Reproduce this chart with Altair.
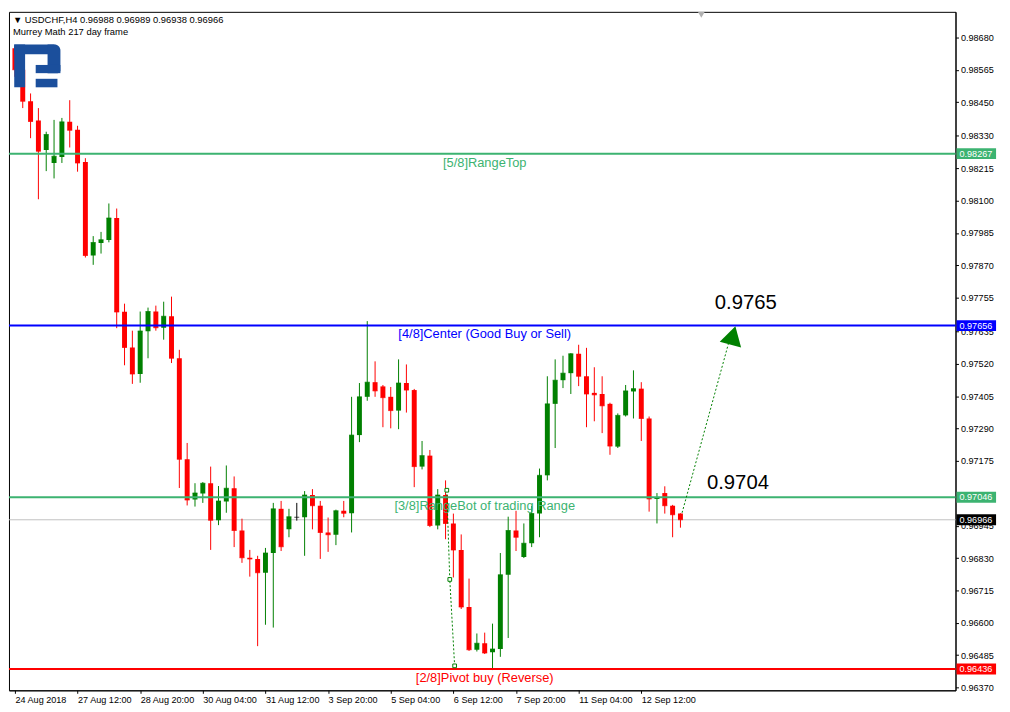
import json
import altair as alt
import pandas as pd

# ---------------- data ----------------
bar_open = [0.98642, 0.98565, 0.98453, 0.98385, 0.98280, 0.98234, 0.98255, 0.98380, 0.98352, 0.98237,
            0.97905, 0.97950, 0.97960, 0.98038, 0.97705, 0.97578, 0.97484, 0.97636, 0.97706, 0.97648,
            0.97689, 0.97540, 0.97181, 0.97038, 0.97059, 0.97096, 0.96964, 0.97031, 0.97078, 0.96928,
            0.96831, 0.96827, 0.96778, 0.96848, 0.97005, 0.96932, 0.96975, 0.96975, 0.97054, 0.97016,
            0.96921, 0.96913, 0.96998, 0.96989, 0.97267, 0.97403, 0.97455, 0.97440, 0.97403, 0.97354,
            0.97452, 0.97427, 0.97155, 0.97194, 0.96946, 0.97054, 0.96953, 0.96859, 0.96656, 0.96504,
            0.96527, 0.96495, 0.96507, 0.96771, 0.96928, 0.96834, 0.96883, 0.96988, 0.97124, 0.97378,
            0.97462, 0.97487, 0.97556, 0.97476, 0.97417, 0.97413, 0.97378, 0.97226, 0.97337, 0.97422,
            0.97432, 0.97326, 0.97040, 0.97061, 0.97016, 0.96988]
bar_high = [0.98649, 0.98572, 0.98481, 0.98429, 0.98345, 0.98387, 0.98394, 0.98457, 0.98366, 0.98251,
            0.97974, 0.97989, 0.98090, 0.98072, 0.97734, 0.97638, 0.97706, 0.97720, 0.97727, 0.97741,
            0.97759, 0.97570, 0.97239, 0.97096, 0.97100, 0.97155, 0.97086, 0.97159, 0.97120, 0.96970,
            0.96859, 0.96838, 0.96866, 0.97026, 0.97033, 0.97005, 0.97026, 0.97068, 0.97075, 0.97033,
            0.96974, 0.97002, 0.97033, 0.97403, 0.97452, 0.97672, 0.97529, 0.97445, 0.97438, 0.97536,
            0.97518, 0.97431, 0.97246, 0.97214, 0.97075, 0.97106, 0.96988, 0.96914, 0.96757, 0.96562,
            0.96565, 0.96597, 0.96848, 0.96977, 0.96998, 0.96953, 0.97016, 0.97148, 0.97476, 0.97536,
            0.97549, 0.97558, 0.97588, 0.97577, 0.97508, 0.97476, 0.97382, 0.97344, 0.97445, 0.97497,
            0.97455, 0.97333, 0.97061, 0.97085, 0.97019, 0.96989]
bar_low = [0.98540, 0.98429, 0.98322, 0.98105, 0.98205, 0.98179, 0.98234, 0.98289, 0.98203, 0.97898,
           0.97872, 0.97912, 0.97952, 0.97647, 0.97515, 0.97449, 0.97453, 0.97540, 0.97638, 0.97606,
           0.97523, 0.97079, 0.97017, 0.97013, 0.97026, 0.96859, 0.96947, 0.96991, 0.96869, 0.96813,
           0.96764, 0.96517, 0.96593, 0.96583, 0.96855, 0.96904, 0.96963, 0.96838, 0.96932, 0.96827,
           0.96852, 0.96876, 0.96975, 0.96921, 0.97242, 0.97389, 0.97403, 0.97295, 0.97291, 0.97288,
           0.97347, 0.97082, 0.97145, 0.96940, 0.96932, 0.96897, 0.96761, 0.96649, 0.96500, 0.96498,
           0.96489, 0.96432, 0.96479, 0.96546, 0.96855, 0.96830, 0.96869, 0.96904, 0.97106, 0.97221,
           0.97434, 0.97413, 0.97441, 0.97295, 0.97316, 0.97274, 0.97197, 0.97221, 0.97333, 0.97326,
           0.97246, 0.96995, 0.96953, 0.96988, 0.96904, 0.96938]
bar_close = [0.98565, 0.98453, 0.98381, 0.98276, 0.98335, 0.98258, 0.98380, 0.98350, 0.98234, 0.97905,
             0.97951, 0.97961, 0.98038, 0.97704, 0.97578, 0.97484, 0.97637, 0.97706, 0.97648, 0.97689,
             0.97540, 0.97181, 0.97036, 0.97061, 0.97096, 0.96964, 0.97033, 0.97078, 0.96928, 0.96831,
             0.96827, 0.96778, 0.96848, 0.97005, 0.96870, 0.96977, 0.96975, 0.97054, 0.97016, 0.96921,
             0.96913, 0.96998, 0.96989, 0.97267, 0.97403, 0.97455, 0.97424, 0.97400, 0.97354, 0.97452,
             0.97427, 0.97155, 0.97194, 0.96946, 0.97054, 0.96953, 0.96859, 0.96656, 0.96504, 0.96527,
             0.96493, 0.96507, 0.96771, 0.96928, 0.96904, 0.96883, 0.96988, 0.97124, 0.97378, 0.97462,
             0.97487, 0.97556, 0.97476, 0.97413, 0.97410, 0.97371, 0.97228, 0.97337, 0.97424, 0.97432,
             0.97326, 0.97040, 0.97044, 0.97016, 0.96984, 0.96966]

time_labels = ["24 Aug 2018", "27 Aug 12:00", "28 Aug 20:00", "30 Aug 04:00", "31 Aug 12:00",
               "3 Sep 20:00", "5 Sep 04:00", "6 Sep 12:00", "7 Sep 20:00", "11 Sep 04:00", "12 Sep 12:00"]
time_tick_bars = [0, 8, 16, 24, 32, 40, 48, 56, 64, 72, 80]

# the 0.97060 tick label is entirely hidden behind the 0.97046 level box in the reference
price_ticks = [0.98680, 0.98565, 0.98450, 0.98330, 0.98215, 0.98100, 0.97985, 0.97870, 0.97755,
               0.97635, 0.97520, 0.97405, 0.97290, 0.97175, 0.96945, 0.96830, 0.96715,
               0.96600, 0.96485, 0.96370]

level_price = [0.98267, 0.97656, 0.97046, 0.96436]
level_name = ["[5/8]RangeTop", "[4/8]Center (Good Buy or Sell)",
              "[3/8]RangeBot of trading Range", "[2/8]Pivot buy (Reverse)"]
last_price = 0.96966

target_text = ["0.9765", "0.9704"]
target_price = [0.9765, 0.9704]

forecast_bar = [85.21, 91.16]
forecast_price = [0.96991, 0.97595]
arrow_bar = [91.7]
arrow_price = [0.97621]

old_path_bar = [55.16, 55.54, 56.16]
old_path_price = [0.97071, 0.96754, 0.96447]

header_line1 = "\u25bc USDCHF,H4  0.96988 0.96989 0.96938 0.96966"
header_line2 = "Murrey Math 217 day frame"

# ---------------- styles ----------------
FONT = "Liberation Sans"
GREEN_LVL = "#3cb371"
level_color = [GREEN_LVL, "#0000ff", GREEN_LVL, "#ff0000"]
UP, DOWN, FLAT = "#008000", "#ff0000", "#000000"
LOGO = "#1b4f9c"

W, H = 957, 686

candles = pd.DataFrame({"idx": list(range(len(bar_open))), "open": bar_open, "high": bar_high,
                        "low": bar_low, "close": bar_close})
levels = pd.DataFrame({"price": level_price, "name": level_name})
boxes = pd.DataFrame({"price": level_price + [last_price],
                      "key": level_name + ["last"]})
box_scale = alt.Scale(domain=level_name + ["last"], range=level_color + ["#000000"])
lvl_scale = alt.Scale(domain=level_name, range=level_color)

x_scale = alt.Scale(domain=[-0.125, 119.5], nice=False, zero=False)
y_scale = alt.Scale(domain=[0.96360, 0.98771], nice=False, zero=False)

label_expr = json.dumps(time_labels) + "[round(datum.value / 8)]"

x_axis = alt.Axis(values=time_tick_bars, labelExpr=label_expr, orient="bottom", title=None,
                  grid=False, tickSize=3, tickColor="black", domainColor="black",
                  labelAlign="left", labelBaseline="top", labelPadding=2,
                  labelFont=FONT, labelFontSize=9.2, labelColor="black",
                  labelFlush=False, labelOverlap=False, labelBound=False)
y_axis = alt.Axis(values=price_ticks, format=".5f", orient="right", title=None, grid=False,
                  tickSize=3, tickColor="black", domainColor="black", labelPadding=2,
                  labelFont=FONT, labelFontSize=9.2, labelColor="black",
                  labelOverlap=False, labelFlush=False, labelBound=False)

base = alt.Chart(candles).transform_calculate(
    dir="datum.close > datum.open ? 'up' : (datum.close < datum.open ? 'down' : 'flat')"
)
cdir = alt.Color("dir:N", scale=alt.Scale(domain=["up", "down", "flat"], range=[UP, DOWN, FLAT]),
                 legend=None)


def X(field):
    return alt.X(field, scale=x_scale, axis=x_axis, title=None)


def Y(field):
    return alt.Y(field, scale=y_scale, axis=y_axis, title=None)


last_line = alt.Chart(pd.DataFrame({"price": [last_price]})).mark_rule(
    color="#c0c0c0", strokeWidth=1).encode(y=Y("price:Q"))

wicks = base.mark_rule(strokeWidth=1, clip=True).encode(
    x=X("idx:Q"), y=Y("low:Q"), y2="high:Q", color=cdir)
bodies = base.mark_bar(size=5, clip=True).encode(
    x=X("idx:Q"), y=Y("open:Q"), y2="close:Q", color=cdir)
doji = base.mark_tick(orient="horizontal", size=5, thickness=1, clip=True).encode(
    x=X("idx:Q"), y=Y("close:Q"), color=cdir)
candle_layer = alt.layer(wicks, bodies, doji)

lvl_lines = alt.Chart(levels).mark_rule(strokeWidth=2).encode(
    y=Y("price:Q"), color=alt.Color("name:N", scale=lvl_scale, legend=None))
lvl_text = alt.Chart(levels).mark_text(font=FONT, fontSize=13, align="center",
                                       baseline="middle", dy=9).encode(
    x=alt.value(481), y=Y("price:Q"), text="name:N",
    color=alt.Color("name:N", scale=lvl_scale, legend=None))
level_layer = alt.layer(lvl_lines, lvl_text)

box_rects = alt.Chart(boxes).mark_rule(strokeWidth=11, strokeCap="butt").encode(
    x=alt.value(958), x2=alt.value(998), y=Y("price:Q"),
    color=alt.Color("key:N", scale=box_scale, legend=None))
box_text = alt.Chart(boxes).mark_text(font=FONT, fontSize=9.2, align="left", baseline="middle",
                                      color="white").encode(
    x=alt.value(961), y=Y("price:Q"), text=alt.Text("price:Q", format=".5f"))

tgt1 = alt.Chart(pd.DataFrame({"price": target_price[:1], "t": target_text[:1]})).mark_text(
    font=FONT, fontSize=20.5, align="center", baseline="middle", dy=-24, color="black").encode(
    x=alt.value(745), y=Y("price:Q"), text="t:N")
tgt2 = alt.Chart(pd.DataFrame({"price": target_price[1:], "t": target_text[1:]})).mark_text(
    font=FONT, fontSize=20.5, align="center", baseline="middle", dy=-16, color="black").encode(
    x=alt.value(737), y=Y("price:Q"), text="t:N")

fc_line = alt.Chart(pd.DataFrame({"idx": forecast_bar, "price": forecast_price})).mark_line(
    strokeDash=[2, 2], strokeWidth=1, color=UP).encode(x=X("idx:Q"), y=Y("price:Q"))
fc_head = alt.Chart(pd.DataFrame({"idx": arrow_bar, "price": arrow_price})).mark_point(
    shape="triangle-up", filled=True, size=500, angle=15, color=UP, opacity=1).encode(
    x=X("idx:Q"), y=Y("price:Q"))

old_df = pd.DataFrame({"idx": old_path_bar, "price": old_path_price})
old_line = alt.Chart(old_df).mark_line(strokeDash=[2, 2], strokeWidth=1, color=UP).encode(
    x=X("idx:Q"), y=Y("price:Q"))
old_pts = alt.Chart(old_df).mark_point(shape="square", filled=True, fill="white", size=14,
                                       stroke=UP, strokeWidth=1, opacity=1).encode(
    x=X("idx:Q"), y=Y("price:Q"))

one = pd.DataFrame({"k": [0]})
hdr1 = alt.Chart(one).mark_text(font=FONT, fontSize=9.5, align="left", baseline="middle",
                                color="black").encode(x=alt.value(4), y=alt.value(8),
                                                      text=alt.value(header_line1))
hdr2 = alt.Chart(one).mark_text(font=FONT, fontSize=9.5, align="left", baseline="middle",
                                color="black").encode(x=alt.value(4), y=alt.value(20),
                                                      text=alt.value(header_line2))
shift_mark = alt.Chart(one).mark_point(shape="triangle-down", filled=True, size=45,
                                       color="#b0b0b0", opacity=1).encode(
    x=alt.value(700), y=alt.value(3))


def logo_rect(x1, x2, y1, y2, **kw):
    return alt.Chart(one).mark_rect(color=LOGO, **kw).encode(
        x=alt.value(x1), x2=alt.value(x2), y=alt.value(y1), y2=alt.value(y2))


logo = [
    logo_rect(5.3, 16.3, 33, 76.3),
    logo_rect(5.3, 46, 33, 43),
    logo_rect(39, 52, 33, 62, cornerRadiusTopRight=6, cornerRadiusBottomRight=3),
    logo_rect(27, 52, 53.7, 62),
    logo_rect(27, 49, 67.7, 76.3),
]

chart = alt.layer(
    last_line, candle_layer, *logo, level_layer, alt.layer(box_rects, box_text),
    old_line, old_pts, fc_line, fc_head, tgt1, tgt2, hdr1, hdr2, shift_mark
).resolve_scale(
    color="independent"
).properties(
    width=W, height=H, padding=0, background="white"
).configure_view(
    stroke="black", strokeWidth=1, fill="white"
)

chart.save("out.html", embed_options={"renderer": "svg", "actions": False})
